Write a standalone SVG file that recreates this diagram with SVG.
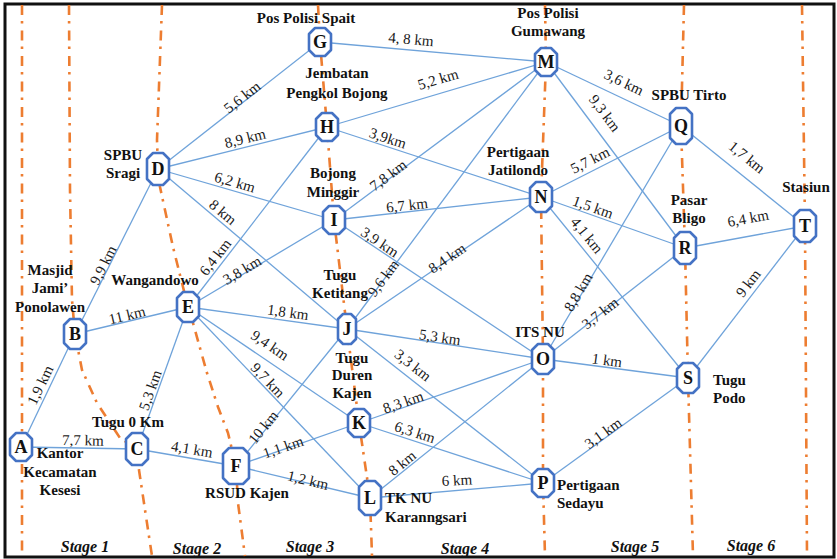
<svg xmlns="http://www.w3.org/2000/svg" xmlns:xlink="http://www.w3.org/1999/xlink" width="837" height="559" viewBox="0 0 837 559">
  <style>
    .frame { fill: #ffffff; stroke: #111111; stroke-width: 3; }
    .stage { fill: none; stroke: #ED7D31; stroke-width: 2.6; stroke-dasharray: 10 6 2.5 7; stroke-linejoin: round; }
    .edge { stroke: #6FA3DA; stroke-width: 1.3; fill: none; }
    .oct { fill: #ffffff; stroke: #4472C4; stroke-width: 2.6; stroke-linejoin: round; }
    .id { font-family: "Liberation Serif", "Times New Roman", serif; font-weight: bold; font-size: 18px; fill: #111111; text-anchor: middle; }
    .name { font-family: "Liberation Serif", "Times New Roman", serif; font-weight: bold; font-size: 15px; fill: #111111; }
    .mid { text-anchor: middle; }
    .km { font-family: "Liberation Serif", "Times New Roman", serif; font-size: 15px; fill: #1a1a1a; text-anchor: middle; }
    .stg { font-family: "Liberation Serif", "Times New Roman", serif; font-weight: bold; font-style: italic; font-size: 16px; fill: #111111; text-anchor: middle; }
  </style>
  <defs>
    <polygon id="o30" class="oct" points="-5,-14 5,-14 11,-8 11,8 5,14 -5,14 -11,8 -11,-8"/>
    <polygon id="o32" class="oct" points="-5,-15 5,-15 11,-9 11,9 5,15 -5,15 -11,9 -11,-9"/>
    <polygon id="o34" class="oct" points="-5,-16 5,-16 11,-10 11,10 5,16 -5,16 -11,10 -11,-10"/>
    <polygon id="o36" class="oct" points="-5,-17 5,-17 11,-11 11,11 5,17 -5,17 -11,11 -11,-11"/>
    <polygon id="o38" class="oct" points="-5,-18 5,-18 11,-12 11,12 5,18 -5,18 -11,12 -11,-12"/>
    <polygon id="oF" class="oct" points="-7,-18 7,-18 13,-12 13,12 7,18 -7,18 -13,12 -13,-12"/>
    <polygon id="oJ" class="oct" points="-4,-15 4,-15 9,-10 9,10 4,15 -4,15 -9,10 -9,-10"/>
  </defs>

  <!-- outer frame -->
  <rect class="frame" x="5" y="4" width="829" height="553"/>

  <!-- stage boundaries -->
  <g id="stages">
    <polyline class="stage" points="22,5 22,556"/>
    <polyline class="stage" points="69,5 70,190 72,300 75,334 82,370 97,403 120,438 137,449 139,470 150,543 152,556"/>
    <polyline class="stage" points="162,5 157,140 158,169 160,187 173,247 182,283 188,307 193,323 207,373 218,407 228,433 236,466 238,503 245,556"/>
    <polyline class="stage" points="318,5 320,42 327,127 334,220 347,329 359,423 370,498 372,556"/>
    <polyline class="stage" points="545,5 546,62 541,197 543,359 543,483 545,556"/>
    <polyline class="stage" points="684,5 681,126 685,248 688,378 693,556"/>
    <polyline class="stage" points="802,5 805,226 807,556"/>
  </g>

  <!-- connectors -->
  <g id="edges">
    <line class="edge" x1="21" y1="447" x2="75" y2="334"/>
    <line class="edge" x1="21" y1="447" x2="137" y2="449"/>
    <line class="edge" x1="75" y1="334" x2="158" y2="169"/>
    <line class="edge" x1="75" y1="334" x2="188" y2="307"/>
    <line class="edge" x1="137" y1="449" x2="188" y2="307"/>
    <line class="edge" x1="137" y1="449" x2="236" y2="466"/>
    <line class="edge" x1="158" y1="169" x2="320" y2="42"/>
    <line class="edge" x1="158" y1="169" x2="327" y2="127"/>
    <line class="edge" x1="158" y1="169" x2="334" y2="220"/>
    <line class="edge" x1="158" y1="169" x2="347" y2="329"/>
    <line class="edge" x1="188" y1="307" x2="327" y2="127"/>
    <line class="edge" x1="188" y1="307" x2="334" y2="220"/>
    <line class="edge" x1="188" y1="307" x2="347" y2="329"/>
    <line class="edge" x1="188" y1="307" x2="359" y2="423"/>
    <line class="edge" x1="188" y1="307" x2="370" y2="498"/>
    <line class="edge" x1="236" y1="466" x2="347" y2="329"/>
    <line class="edge" x1="236" y1="466" x2="359" y2="423"/>
    <line class="edge" x1="236" y1="466" x2="370" y2="498"/>
    <line class="edge" x1="320" y1="42" x2="546" y2="62"/>
    <line class="edge" x1="327" y1="127" x2="546" y2="62"/>
    <line class="edge" x1="327" y1="127" x2="541" y2="197"/>
    <line class="edge" x1="334" y1="220" x2="546" y2="62"/>
    <line class="edge" x1="334" y1="220" x2="541" y2="197"/>
    <line class="edge" x1="334" y1="220" x2="543" y2="359"/>
    <line class="edge" x1="347" y1="329" x2="546" y2="62"/>
    <line class="edge" x1="347" y1="329" x2="541" y2="197"/>
    <line class="edge" x1="347" y1="329" x2="543" y2="359"/>
    <line class="edge" x1="347" y1="329" x2="543" y2="483"/>
    <line class="edge" x1="359" y1="423" x2="543" y2="359"/>
    <line class="edge" x1="359" y1="423" x2="543" y2="483"/>
    <line class="edge" x1="370" y1="498" x2="543" y2="359"/>
    <line class="edge" x1="370" y1="498" x2="543" y2="483"/>
    <line class="edge" x1="546" y1="62" x2="681" y2="126"/>
    <line class="edge" x1="546" y1="62" x2="685" y2="248"/>
    <line class="edge" x1="541" y1="197" x2="681" y2="126"/>
    <line class="edge" x1="541" y1="197" x2="685" y2="248"/>
    <line class="edge" x1="541" y1="197" x2="688" y2="378"/>
    <line class="edge" x1="543" y1="359" x2="681" y2="126"/>
    <line class="edge" x1="543" y1="359" x2="685" y2="248"/>
    <line class="edge" x1="543" y1="359" x2="688" y2="378"/>
    <line class="edge" x1="543" y1="483" x2="688" y2="378"/>
    <line class="edge" x1="681" y1="126" x2="805" y2="226"/>
    <line class="edge" x1="685" y1="248" x2="805" y2="226"/>
    <line class="edge" x1="688" y1="378" x2="805" y2="226"/>
  </g>

  <!-- distances -->
  <g id="distances">
    <text class="km" dy="0.35em" transform="translate(40,385) rotate(-64.5)">1,9 km</text>
    <text class="km" dy="0.35em" transform="translate(83,440) rotate(1)">7,7 km</text>
    <text class="km" dy="0.35em" transform="translate(103,265) rotate(-63.3)">9,9 km</text>
    <text class="km" dy="0.35em" transform="translate(127,315) rotate(-13.4)">11 km</text>
    <text class="km" dy="0.35em" transform="translate(150,390) rotate(-70.2)">5,3 km</text>
    <text class="km" dy="0.35em" transform="translate(192,449) rotate(9.7)">4,1 km</text>
    <text class="km" dy="0.35em" transform="translate(242,97) rotate(-38.1)">5,6 km</text>
    <text class="km" dy="0.35em" transform="translate(245,138) rotate(-14)">8,9 km</text>
    <text class="km" dy="0.35em" transform="translate(235,182) rotate(16.2)">6,2 km</text>
    <text class="km" dy="0.35em" transform="translate(223,212) rotate(40.2)">8 km</text>
    <text class="km" dy="0.35em" transform="translate(215,257) rotate(-52.3)">6,4 km</text>
    <text class="km" dy="0.35em" transform="translate(242,270) rotate(-30.8)">3,8 km</text>
    <text class="km" dy="0.35em" transform="translate(288,312) rotate(7.9)">1,8 km</text>
    <text class="km" dy="0.35em" transform="translate(270,345) rotate(34.2)">9,4 km</text>
    <text class="km" dy="0.35em" transform="translate(268,380) rotate(46.4)">9,7 km</text>
    <text class="km" dy="0.35em" transform="translate(263,427) rotate(-51)">10 km</text>
    <text class="km" dy="0.35em" transform="translate(283,447) rotate(-19.3)">1,1 km</text>
    <text class="km" dy="0.35em" transform="translate(308,480) rotate(13.4)">1,2 km</text>
    <text class="km" dy="0.35em" transform="translate(411,39) rotate(5.1)">4, 8 km</text>
    <text class="km" dy="0.35em" transform="translate(438,79) rotate(-16.5)">5,2 km</text>
    <text class="km" dy="0.35em" transform="translate(388,138) rotate(18.1)">3,9km</text>
    <text class="km" dy="0.35em" transform="translate(388,175) rotate(-36.7)">7,8 km</text>
    <text class="km" dy="0.35em" transform="translate(407,205) rotate(-6.3)">6,7 km</text>
    <text class="km" dy="0.35em" transform="translate(380,242) rotate(33.6)">3,9 km</text>
    <text class="km" dy="0.35em" transform="translate(383,278) rotate(-53.3)">9,6 km</text>
    <text class="km" dy="0.35em" transform="translate(447,258) rotate(-34.2)">8,4 km</text>
    <text class="km" dy="0.35em" transform="translate(440,337) rotate(8.7)">5,3 km</text>
    <text class="km" dy="0.35em" transform="translate(413,365) rotate(38.2)">3,3 km</text>
    <text class="km" dy="0.35em" transform="translate(403,402) rotate(-19.2)">8,3 km</text>
    <text class="km" dy="0.35em" transform="translate(415,432) rotate(18.1)">6,3 km</text>
    <text class="km" dy="0.35em" transform="translate(402,463) rotate(-38.8)">8 km</text>
    <text class="km" dy="0.35em" transform="translate(457,480) rotate(-3)">6 km</text>
    <text class="km" dy="0.35em" transform="translate(624,82) rotate(25.4)">3,6 km</text>
    <text class="km" dy="0.35em" transform="translate(605,113) rotate(53.2)">9,3 km</text>
    <text class="km" dy="0.35em" transform="translate(590,160) rotate(-26.9)">5,7 km</text>
    <text class="km" dy="0.35em" transform="translate(593,207) rotate(19.5)">1,5 km</text>
    <text class="km" dy="0.35em" transform="translate(587,235) rotate(50.9)">4,1 km</text>
    <text class="km" dy="0.35em" transform="translate(578,292) rotate(-59.4)">8,8 km</text>
    <text class="km" dy="0.35em" transform="translate(600,313) rotate(-38)">3,7 km</text>
    <text class="km" dy="0.35em" transform="translate(607,360) rotate(7.5)">1 km</text>
    <text class="km" dy="0.35em" transform="translate(603,433) rotate(-35.9)">3,1 km</text>
    <text class="km" dy="0.35em" transform="translate(747,157) rotate(38.9)">1,7 km</text>
    <text class="km" dy="0.35em" transform="translate(748,218) rotate(-10.4)">6,4 km</text>
    <text class="km" dy="0.35em" transform="translate(748,283) rotate(-52.4)">9 km</text>
  </g>

  <!-- places -->
  <g id="node-A">
    <use href="#o30" x="21" y="447"/>
    <text class="id" x="21" y="453">A</text>
    <text class="name mid" x="60" y="458">Kantor<tspan x="60" dy="19">Kecamatan</tspan><tspan x="60" dy="18">Kesesi</tspan></text>
  </g>
  <g id="node-B">
    <use href="#o32" x="75" y="334"/>
    <text class="id" x="75" y="340">B</text>
    <text class="name mid" x="50" y="275">Masjid<tspan x="50" dy="18">Jami’</tspan><tspan x="50" dy="19">Ponolawen</tspan></text>
  </g>
  <g id="node-C">
    <use href="#o34" x="137" y="449"/>
    <text class="id" x="137" y="455">C</text>
    <text class="name mid" x="128" y="427">Tugu 0 Km</text>
  </g>
  <g id="node-D">
    <use href="#o34" x="158" y="169"/>
    <text class="id" x="158" y="175">D</text>
    <text class="name mid" x="123" y="160">SPBU<tspan x="123" dy="18">Sragi</tspan></text>
  </g>
  <g id="node-E">
    <use href="#o32" x="188" y="307"/>
    <text class="id" x="188" y="313">E</text>
    <text class="name mid" x="155" y="285">Wangandowo</text>
  </g>
  <g id="node-F">
    <use href="#oF" x="236" y="466"/>
    <text class="id" x="236" y="472">F</text>
    <text class="name mid" x="247" y="498">RSUD Kajen</text>
  </g>
  <g id="node-G">
    <use href="#o30" x="320" y="42"/>
    <text class="id" x="320" y="48">G</text>
    <text class="name mid" x="306" y="23">Pos Polisi Spait</text>
  </g>
  <g id="node-H">
    <use href="#o30" x="327" y="127"/>
    <text class="id" x="327" y="133">H</text>
    <text class="name mid" x="337" y="78">Jembatan<tspan x="337" dy="20">Pengkol Bojong</tspan></text>
  </g>
  <g id="node-I">
    <use href="#o30" x="334" y="220"/>
    <text class="id" x="334" y="226">I</text>
    <text class="name mid" x="333" y="178">Bojong<tspan x="333" dy="19">Minggir</tspan></text>
  </g>
  <g id="node-J">
    <use href="#oJ" x="347" y="329"/>
    <text class="id" x="347" y="335">J</text>
    <text class="name mid" x="340" y="280">Tugu<tspan x="340" dy="18">Ketitang</tspan></text>
  </g>
  <g id="node-K">
    <use href="#o30" x="359" y="423"/>
    <text class="id" x="359" y="429">K</text>
    <text class="name mid" x="352" y="363">Tugu<tspan x="352" dy="17">Duren</tspan><tspan x="352" dy="18">Kajen</tspan></text>
  </g>
  <g id="node-L">
    <use href="#o36" x="370" y="498"/>
    <text class="id" x="370" y="504">L</text>
    <text class="name" x="385" y="503">TK NU<tspan x="385" dy="19">Karanngsari</tspan></text>
  </g>
  <g id="node-M">
    <use href="#o30" x="546" y="62"/>
    <text class="id" x="546" y="68">M</text>
    <text class="name mid" x="548" y="18">Pos Polisi<tspan x="548" dy="18">Gumawang</tspan></text>
  </g>
  <g id="node-N">
    <use href="#o32" x="541" y="197"/>
    <text class="id" x="541" y="203">N</text>
    <text class="name mid" x="518" y="157">Pertigaan<tspan x="518" dy="18">Jatilondo</tspan></text>
  </g>
  <g id="node-O">
    <use href="#o32" x="543" y="359"/>
    <text class="id" x="543" y="365">O</text>
    <text class="name mid" x="540" y="337">ITS NU</text>
  </g>
  <g id="node-P">
    <use href="#o30" x="543" y="483"/>
    <text class="id" x="543" y="489">P</text>
    <text class="name" x="557" y="490">Pertigaan<tspan x="557" dy="18">Sedayu</tspan></text>
  </g>
  <g id="node-Q">
    <use href="#o38" x="681" y="126"/>
    <text class="id" x="681" y="132">Q</text>
    <text class="name mid" x="689" y="100">SPBU Tirto</text>
  </g>
  <g id="node-R">
    <use href="#o34" x="685" y="248"/>
    <text class="id" x="685" y="254">R</text>
    <text class="name mid" x="689" y="205">Pasar<tspan x="689" dy="18">Bligo</tspan></text>
  </g>
  <g id="node-S">
    <use href="#o32" x="688" y="378"/>
    <text class="id" x="688" y="384">S</text>
    <text class="name" x="713" y="385">Tugu<tspan x="713" dy="18">Podo</tspan></text>
  </g>
  <g id="node-T">
    <use href="#o34" x="805" y="226"/>
    <text class="id" x="805" y="232">T</text>
    <text class="name mid" x="806" y="192">Stasiun</text>
  </g>

  <!-- stage names -->
  <g id="stage-labels">
    <text class="stg" x="85" y="552">Stage 1</text>
    <text class="stg" x="197" y="554">Stage 2</text>
    <text class="stg" x="310" y="552">Stage 3</text>
    <text class="stg" x="465" y="554">Stage 4</text>
    <text class="stg" x="635" y="552">Stage 5</text>
    <text class="stg" x="751" y="551">Stage 6</text>
  </g>
</svg>
